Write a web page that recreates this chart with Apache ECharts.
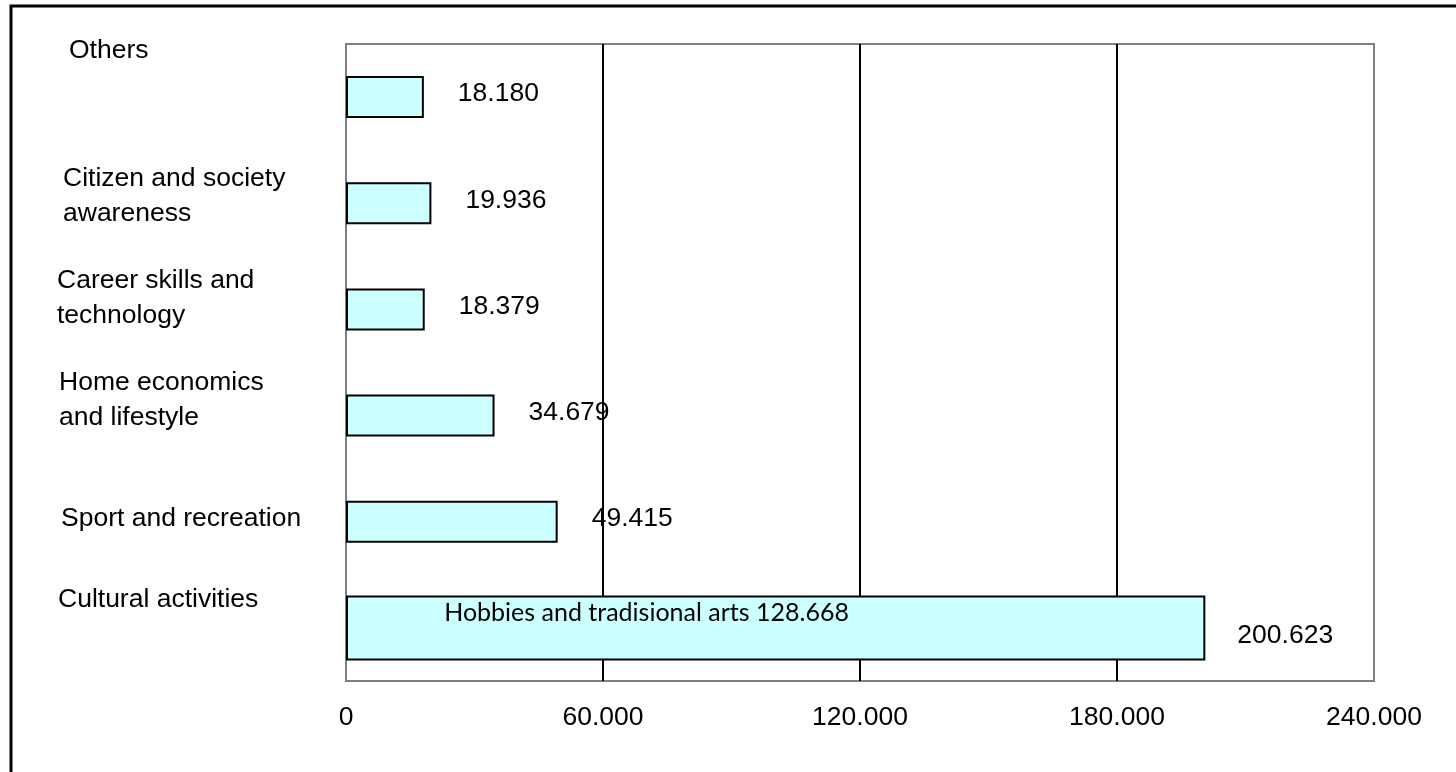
<!DOCTYPE html>
<html>
<head>
<meta charset="utf-8">
<script src="https://cdn.jsdelivr.net/npm/echarts@6/dist/echarts.min.js"></script>
<style>
html,body{margin:0;padding:0;background:#fff;overflow:hidden;}
#chart{width:1456px;height:772px;}
</style>
</head>
<body>
<div id="chart"></div>
<script>
// ---- data ----
const categories = ['Others', 'Citizen and society\nawareness', 'Career skills and\ntechnology', 'Home economics\nand lifestyle', 'Sport and recreation', 'Cultural activities'];
const values = [18.180, 19.936, 18.379, 34.679, 49.415, 200.623];
const subLabel = 'Hobbies and tradisional arts';
const subValue = 128.668;
const xTicks = [0, 60, 120, 180, 240];

// ---- layout (label nudges, not data) ----
const labelShiftUp = [46, 7, 11, 15, 3, 28];
const labelShiftRight = [12, 6, 0, 2, 4, 1];

const fmt3 = v => v.toFixed(3);
const lastIdx = values.length - 1;
const mainData = values.map((v, i) => i === lastIdx ? '-' : v);
const bigData = values.map((v, i) => i === lastIdx ? v : '-');
const subData = values.map((v, i) => i === lastIdx ? subValue : '-');

const FONT = 'Liberation Sans, Arial, sans-serif';
const FS = 26.5;
const LH = 35;
const txt = { fontFamily: FONT, fontSize: FS, color: '#000' };

// rich styles per category label
const rich = {};
categories.forEach((c, i) => {
  rich['a' + i] = { fontFamily: FONT, fontSize: FS, color: '#000', lineHeight: LH, padding: [0, 0, 0, labelShiftRight[i]] };
  rich['s' + i] = { fontFamily: FONT, fontSize: 1, color: 'rgba(0,0,0,0)', lineHeight: Math.max(1, labelShiftUp[i] * 2) };
});
const catIndex = {};
categories.forEach((c, i) => { catIndex[c] = i; });
const yLabelFormatter = (val) => {
  const i = catIndex[val];
  const lines = val.split('\n');
  return lines.map(l => '{a' + i + '|' + l + '}').join('\n') + '\n{s' + i + '| }';
};

const chart = echarts.init(document.getElementById('chart'));
chart.setOption({
  animation: false,
  backgroundColor: '#fff',
  graphic: [{
    type: 'rect', silent: true, z: 100,
    shape: { x: 11, y: 6, width: 1600, height: 900 },
    style: { fill: 'none', stroke: '#000', lineWidth: 3 }
  }],
  grid: {
    left: 346, top: 44, right: 82, bottom: 91,
    containLabel: false, outerBoundsMode: 'none',
    show: true, borderColor: '#808080', borderWidth: 2, backgroundColor: '#fff'
  },
  xAxis: {
    type: 'value', min: xTicks[0], max: xTicks[xTicks.length - 1], interval: xTicks[1] - xTicks[0],
    axisLine: { show: false }, axisTick: { show: false },
    splitLine: { show: true, lineStyle: { color: ['#808080', '#000', '#000', '#000', '#808080'], width: 2 } },
    axisLabel: Object.assign({ margin: 23, formatter: v => v === 0 ? '0' : fmt3(v) }, txt)
  },
  yAxis: [{
    type: 'category', inverse: true, data: categories,
    axisLine: { show: false }, axisTick: { show: false }, splitLine: { show: false },
    axisLabel: Object.assign({ align: 'left', margin: 289, interval: 0, formatter: yLabelFormatter, rich: rich }, txt)
  }, {
    type: 'category', inverse: true, data: categories, show: false, position: 'left'
  }],
  series: [{
    type: 'bar', yAxisIndex: 0, data: mainData, barWidth: 42,
    itemStyle: { color: '#CCFFFF', borderColor: '#000', borderWidth: 2 },
    label: Object.assign({ show: true, position: 'right', distance: 34, offset: [0, -3], formatter: p => fmt3(p.value) }, txt)
  }, {
    type: 'bar', yAxisIndex: 1, data: bigData, barWidth: 65, barGap: '-100%',
    itemStyle: { color: '#CCFFFF', borderColor: '#000', borderWidth: 2 },
    label: Object.assign({ show: true, position: 'right', distance: 32, offset: [0, 8], formatter: p => fmt3(p.value) }, txt)
  }, {
    type: 'bar', yAxisIndex: 1, data: subData, barWidth: 65, barGap: '-100%', z: 3,
    itemStyle: { color: 'rgba(0,0,0,0)', borderWidth: 0 },
    label: { show: true, position: 'inside', offset: [25, -15], fontFamily: 'Lato, sans-serif', fontSize: 25, color: '#000',
      formatter: p => subLabel + ' ' + fmt3(p.value) }
  }]
});
</script>
</body>
</html>
